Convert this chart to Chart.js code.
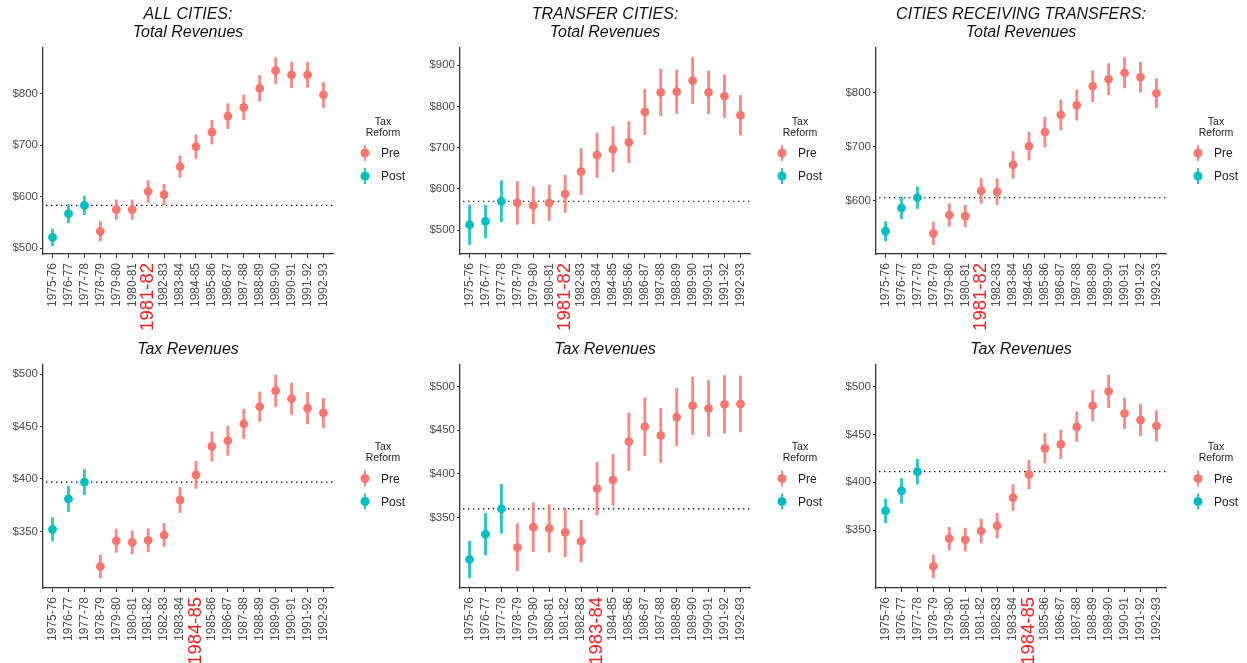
<!DOCTYPE html>
<html lang="en">

<head>
    <meta charset="UTF-8">
    <title>Revenues per capita around the tax reform</title>
    <script src="https://cdn.jsdelivr.net/npm/chart.js@4.4.1/dist/chart.umd.min.js"></script>
    <style>
        body { margin: 0; background: #fff; }
        #wrap { position: relative; width: 1247px; height: 663px; overflow: hidden; }
        #wrap canvas { position: absolute; }
    </style>
</head>

<body>
    <div id="wrap"></div>

    <script>
        // fiscal years on the x axis
        const years = ['1975-76', '1976-77', '1977-78', '1978-79', '1979-80', '1980-81', '1981-82', '1982-83', '1983-84',
            '1984-85', '1985-86', '1986-87', '1987-88', '1988-89', '1989-90', '1990-91', '1991-92', '1992-93'];
        const taxReform = ['Post', 'Post', 'Post', 'Pre', 'Pre', 'Pre', 'Pre', 'Pre', 'Pre',
            'Pre', 'Pre', 'Pre', 'Pre', 'Pre', 'Pre', 'Pre', 'Pre', 'Pre'];

        // total revenues (mean and half width of the interval)
        const allTotal = [521, 567, 583, 533, 575, 575, 610, 604, 658, 697, 725, 756, 773, 810, 844, 836, 836, 797];
        const allTotalErr = [16, 18, 18, 19, 19, 19, 21, 20, 21, 23, 23, 24, 24, 25, 25, 25, 24, 24];
        const transferTotal = [513, 521, 570, 566, 560, 566, 588, 642, 682, 696, 713, 787, 834, 836, 863, 834, 825, 779];
        const transferTotalErr = [48, 40, 50, 52, 45, 43, 45, 56, 54, 55, 50, 55, 57, 53, 56, 52, 52, 48];
        const receivingTotal = [543, 586, 605, 539, 573, 571, 618, 616, 666, 701, 727, 759, 777, 812, 825, 837, 829, 799];
        const receivingTotalErr = [18, 20, 20, 21, 21, 20, 23, 24, 25, 26, 28, 28, 28, 29, 29, 28, 28, 27];

        // tax revenues
        const allTax = [352, 381, 397, 316.5, 341, 339.5, 341.5, 346.5, 380, 404, 431, 436.5, 452.5, 469, 484, 476.5, 467.5, 463];
        const allTaxErr = [11, 12, 12, 11, 11, 11, 11, 11, 12, 13, 14, 14, 14, 14, 15, 15, 15, 14];
        const transferTax = [302, 331, 360, 316, 339, 337.5, 333, 323, 383, 393, 437, 454, 444, 465, 478, 475, 479.5, 480];
        const transferTaxErr = [21, 24, 28, 27, 28, 27, 28, 24, 30, 29, 33, 33, 31, 33, 33, 32, 33, 32];
        const receivingTax = [370, 391, 411, 312, 341, 340, 349, 354.5, 384, 408, 435.5, 439.5, 458, 480, 495, 472, 465, 459];
        const receivingTaxErr = [12.5, 13, 13, 12, 12, 12, 12.5, 13, 13.5, 15, 15.5, 15, 15.5, 16, 17, 16, 16.5, 16];

        // y tick labels
        const ticksAllTotal = [500, 600, 700, 800];
        const ticksTransferTotal = [500, 600, 700, 800, 900];
        const ticksReceivingTotal = [600, 700, 800];
        const ticksTax = [350, 400, 450, 500];

        const colors = { Pre: '#F8766D', Post: '#00BFC4' };
        const barColors = { Pre: 'rgba(248,118,109,0.85)', Post: 'rgba(0,191,196,0.85)' };

        const panels = [
            { title: ['ALL CITIES:', 'Total Revenues'], values: allTotal, errors: allTotalErr, ticks: ticksAllTotal, yMin: 489, yMax: 888, highlight: '1981-82', row: 0, col: 0 },
            { title: ['TRANSFER CITIES:', 'Total Revenues'], values: transferTotal, errors: transferTotalErr, ticks: ticksTransferTotal, yMin: 442, yMax: 942, highlight: '1981-82', row: 0, col: 1 },
            { title: ['CITIES RECEIVING TRANSFERS:', 'Total Revenues'], values: receivingTotal, errors: receivingTotalErr, ticks: ticksReceivingTotal, yMin: 500.6, yMax: 883, highlight: '1981-82', row: 0, col: 2 },
            { title: ['Tax Revenues'], values: allTax, errors: allTaxErr, ticks: ticksTax, yMin: 296, yMax: 508.7, highlight: '1984-85', row: 1, col: 0 },
            { title: ['Tax Revenues'], values: transferTax, errors: transferTaxErr, ticks: ticksTax, yMin: 269.4, yMax: 524.6, highlight: '1983-84', row: 1, col: 1 },
            { title: ['Tax Revenues'], values: receivingTax, errors: receivingTaxErr, ticks: ticksTax, yMin: 289.4, yMax: 522.6, highlight: '1984-85', row: 1, col: 2 }
        ];

        // page grid
        const colLeft = [0, 417, 833], colWidth = [418, 418, 414];
        const rowTop = [0, 335], rowHeight = [335, 328];
        const plotTop = [48, 365], plotBottom = [254, 588];
        const yAxisWidth = 43, plotWidth = 290;

        Chart.defaults.font.family = '"Liberation Sans", Arial, sans-serif';
        Chart.defaults.animation = false;

        // dotted baseline, italic titles and the "Tax Reform" legend
        const extras = {
            id: 'extras',
            beforeDatasetsDraw(chart, args, opts) {
                const ctx = chart.ctx, area = chart.chartArea;
                const y = chart.scales.y.getPixelForValue(opts.baseline);
                ctx.save();
                ctx.strokeStyle = '#000';
                ctx.lineWidth = 1.2;
                ctx.setLineDash([1.4, 3.6]);
                ctx.beginPath();
                ctx.moveTo(area.left + 3, y);
                ctx.lineTo(area.right, y);
                ctx.stroke();
                ctx.restore();
            },
            afterDraw(chart, args, opts) {
                const ctx = chart.ctx, area = chart.chartArea;
                ctx.save();
                // title
                ctx.fillStyle = '#111';
                ctx.font = 'italic 16px "Liberation Sans", Arial, sans-serif';
                ctx.textAlign = 'center';
                ctx.textBaseline = 'middle';
                const n = opts.title.length;
                opts.title.forEach((line, i) => {
                    ctx.fillText(line, (area.left + area.right) / 2, area.top - 15 - (n - 1 - i) * 18);
                });
                // legend
                const cx = area.right + 32;
                const cy = (area.top + area.bottom) / 2;
                ctx.fillStyle = '#222';
                ctx.font = '10.5px "Liberation Sans", Arial, sans-serif';
                ctx.fillText('Tax', cx + 18, cy - 29);
                ctx.fillText('Reform', cx + 18, cy - 18);
                ['Pre', 'Post'].forEach((key, i) => {
                    const ky = cy + 2 + i * 23;
                    ctx.strokeStyle = barColors[key];
                    ctx.lineWidth = 2;
                    ctx.beginPath();
                    ctx.moveTo(cx, ky - 8);
                    ctx.lineTo(cx, ky + 8);
                    ctx.stroke();
                    ctx.fillStyle = colors[key];
                    ctx.beginPath();
                    ctx.arc(cx, ky, 4.5, 0, Math.PI * 2);
                    ctx.fill();
                    ctx.fillStyle = '#222';
                    ctx.font = '12px "Liberation Sans", Arial, sans-serif';
                    ctx.textAlign = 'left';
                    ctx.fillText(key, cx + 16, ky + 1);
                });
                ctx.restore();
            }
        };

        const wrap = document.getElementById('wrap');

        panels.forEach(p => {
            const canvas = document.createElement('canvas');
            const w = colWidth[p.col], h = rowHeight[p.row];
            canvas.width = w;
            canvas.height = h;
            canvas.style.left = colLeft[p.col] + 'px';
            canvas.style.top = rowTop[p.row] + 'px';
            wrap.appendChild(canvas);

            const hi = years.indexOf(p.highlight);
            const xHeight = rowTop[p.row] + h - plotBottom[p.row];

            new Chart(canvas, {
                type: 'scatter',
                data: {
                    datasets: [{
                        type: 'scatter',
                        order: 0,
                        data: p.values.map((v, i) => ({ x: i + 1, y: v })),
                        backgroundColor: taxReform.map(t => colors[t]),
                        pointRadius: 4.4,
                        pointBorderWidth: 0
                    }, {
                        type: 'bar',
                        order: 1,
                        data: p.values.map((v, i) => ({ x: i + 1, y: [v - p.errors[i], v + p.errors[i]] })),
                        backgroundColor: taxReform.map(t => barColors[t]),
                        borderWidth: 0,
                        barThickness: 2.2
                    }]
                },
                options: {
                    responsive: false,
                    events: [],
                    layout: { padding: { top: plotTop[p.row] - rowTop[p.row], left: 0, right: w - yAxisWidth - plotWidth, bottom: 0 } },
                    plugins: {
                        legend: { display: false },
                        tooltip: { enabled: false },
                        extras: { baseline: p.values[2], title: p.title }
                    },
                    scales: {
                        x: {
                            type: 'linear',
                            min: 0.4,
                            max: 18.6,
                            offset: false,
                            afterBuildTicks: s => { s.ticks = years.map((y, i) => ({ value: i + 1 })); },
                            afterFit: s => { s.height = xHeight; },
                            border: { display: true, color: '#333', width: 1.3 },
                            grid: { display: true, drawOnChartArea: false, drawTicks: true, tickLength: 4, color: '#333', offset: false },
                            ticks: {
                                autoSkip: false,
                                minRotation: 90,
                                maxRotation: 90,
                                padding: 5,
                                callback: v => years[v - 1],
                                color: c => c.index === hi ? '#FF1A1A' : '#4D4D4D',
                                font: c => c.index === hi ? { size: 18.5 } : { size: 12 }
                            }
                        },
                        y: {
                            type: 'linear',
                            min: p.yMin,
                            max: p.yMax,
                            afterBuildTicks: s => { s.ticks = p.ticks.map(v => ({ value: v })); },
                            afterFit: s => { s.width = yAxisWidth; },
                            border: { display: true, color: '#333', width: 1.3 },
                            grid: { display: true, drawOnChartArea: false, drawTicks: true, tickLength: 3, color: '#333' },
                            ticks: {
                                padding: 2,
                                color: '#4D4D4D',
                                font: { size: 11.5 },
                                callback: v => '$' + v
                            }
                        }
                    }
                },
                plugins: [extras]
            });
        });
    </script>
</body>

</html>
